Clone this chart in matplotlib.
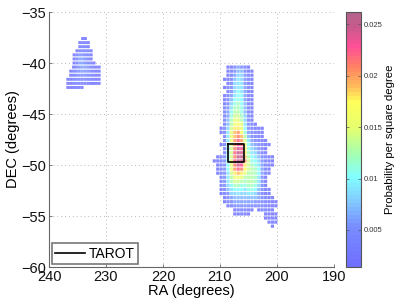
import numpy as np
import matplotlib
matplotlib.use("Agg")
import matplotlib.pyplot as plt
from matplotlib.cm import ScalarMappable
from matplotlib.colors import LinearSegmentedColormap, Normalize

plt.rcParams["font.family"] = ["Liberation Sans", "DejaVu Sans"]

# first RA of each row (degrees) and cell spacing along a row
ra_step_west = 0.5
ra_step_main = 0.6

dec_west = [-37.6, -38.0, -38.4, -38.8, -39.2, -39.6, -40.0, -40.4, -40.8, -41.2, -41.6, -42.0, -42.4]
ra_west = [234.1, 234.6, 234.6, 235.1, 235.6, 235.6, 235.6, 235.7, 236.2, 236.2, 236.7, 236.7, 236.7]
# probabilities in units of 0.001
prob_west = [
    [2, 2],
    [2, 3, 3, 2],
    [2, 3, 3, 2],
    [2, 3, 4, 4, 3, 2],
    [2, 3, 5, 5, 4, 3, 2],
    [2, 4, 6, 6, 5, 3, 2],
    [2, 4, 6, 6, 5, 4, 3, 2],
    [2, 3, 5, 6, 6, 5, 4, 3, 2, 2],
    [2, 3, 4, 5, 6, 5, 5, 4, 3, 2, 2],
    [2, 3, 4, 5, 5, 5, 4, 4, 3, 2, 2],
    [2, 2, 3, 4, 4, 4, 4, 3, 3, 3, 2, 2],
    [2, 2, 3, 3, 3, 3, 3, 3, 2, 2, 2, 2],
    [2, 2, 2, 2, 2, 2],
]

dec_main = [-40.4, -40.8, -41.2, -41.6, -42.0, -42.4, -42.8, -43.2, -43.6, -44.0,
            -44.4, -44.8, -45.2, -45.6, -46.0, -46.4, -46.8, -47.2, -47.6, -48.0,
            -48.4, -48.8, -49.2, -49.6, -50.0, -50.4, -50.8, -51.2, -51.6, -52.0,
            -52.4, -52.8, -53.2, -53.6, -54.0, -54.4, -54.4, -54.8, -54.8, -55.2,
            -55.6, -56.0]
ra_main = [208.6, 208.6, 208.6, 209.2, 208.6, 209.2, 208.6, 209.2, 209.2, 209.2,
           209.2, 209.2, 209.2, 209.2, 209.2, 209.8, 209.8, 209.2, 209.2, 209.8,
           209.2, 209.2, 210.4, 211.0, 210.4, 210.4, 210.4, 209.8, 209.8, 209.8,
           209.8, 209.8, 209.2, 209.2, 208.6, 207.4, 203.2, 207.4, 202.0, 202.0,
           201.4, 200.8]
prob_main = [
    [2, 2, 4, 6, 5, 3, 2],
    [2, 3, 5, 7, 7, 4, 2, 2],
    [2, 3, 6, 8, 8, 5, 3, 2],
    [2, 2, 4, 7, 9, 8, 5, 3, 2],
    [2, 4, 8, 9, 9, 5, 3, 2],
    [2, 3, 5, 8, 9, 9, 6, 3, 2],
    [3, 5, 8, 10, 9, 6, 3, 2],
    [2, 3, 6, 9, 10, 10, 6, 3, 2],
    [2, 4, 7, 10, 11, 10, 6, 3, 2],
    [2, 4, 8, 11, 12, 10, 7, 3, 2],
    [3, 5, 9, 12, 12, 11, 7, 3, 2],
    [3, 6, 10, 13, 13, 11, 7, 3, 2],
    [3, 6, 11, 14, 14, 12, 8, 4, 2],
    [3, 7, 12, 15, 15, 13, 8, 4, 2],
    [3, 7, 13, 16, 17, 15, 9, 5, 3, 2],
    [2, 4, 8, 14, 18, 18, 16, 10, 5, 3, 2, 2, 2],
    [2, 4, 9, 15, 19, 20, 17, 11, 6, 3, 3, 2, 2],
    [4, 9, 15, 19, 21, 19, 13, 7, 4, 3, 2, 2],
    [4, 9, 15, 20, 22, 20, 14, 9, 6, 4, 3, 2, 2],
    [2, 4, 9, 14, 20, 23, 22, 16, 10, 7, 6, 4, 3, 2, 2],
    [4, 9, 14, 21, 24, 23, 17, 11, 8, 7, 5, 3, 2],
    [4, 9, 14, 22, 25, 24, 18, 12, 9, 8, 6, 3, 2],
    [2, 3, 5, 10, 14, 21, 25, 25, 19, 13, 10, 9, 7, 4, 3, 2, 2],
    [2, 2, 3, 5, 10, 15, 22, 25, 25, 20, 14, 11, 10, 8, 5, 3, 2, 2],
    [2, 3, 5, 10, 15, 21, 24, 23, 18, 14, 12, 11, 9, 6, 3, 2, 2],
    [2, 3, 5, 10, 15, 20, 22, 21, 17, 14, 13, 12, 10, 6, 3, 2],
    [2, 3, 5, 9, 14, 18, 19, 18, 15, 13, 13, 12, 10, 6, 3, 2],
    [3, 5, 9, 13, 16, 16, 15, 13, 13, 13, 12, 9, 5, 2],
    [3, 5, 9, 12, 14, 14, 13, 12, 13, 13, 12, 9, 5, 2],
    [3, 5, 8, 10, 12, 12, 11, 11, 12, 12, 11, 8, 4, 2],
    [2, 4, 7, 9, 10, 10, 10, 9, 11, 11, 10, 7, 4, 2, 2],
    [2, 3, 5, 8, 8, 9, 8, 8, 9, 9, 8, 6, 3, 2, 2],
    [2, 4, 6, 7, 7, 7, 7, 7, 7, 7, 6, 4, 3, 2, 2],
    [2, 3, 4, 6, 6, 6, 6, 6, 6, 5, 5, 4, 3, 2, 2, 2],
    [2, 3, 4, 5, 5, 5, 5, 4, 4, 4, 4, 3, 2, 2, 2],
    [2, 3, 3, 3, 3, 2],
    [2, 3, 3, 2, 2],
    [2, 2, 3, 2, 2],
    [2, 2, 2, 2],
    [2, 2, 2, 2],
    [2, 2, 2],
    [2],
]

# TAROT field corners
tarot_ra = [208.65, 205.85, 205.85, 208.65, 208.65]
tarot_dec = [-47.9, -47.9, -49.75, -49.75, -47.9]

x_ticks = [240, 230, 220, 210, 200, 190]
y_ticks = [-35, -40, -45, -50, -55, -60]
cbar_ticks = [0.005, 0.01, 0.015, 0.02, 0.025]
cbar_labels = ["0.005", "0.01", "0.015", "0.02", "0.025"]
vmin, vmax = 0.0014, 0.0262

# washed out jet, as the transparent patches look over white
stops = [(0.0, (112, 112, 255)), (0.15, (120, 140, 255)), (0.25, (130, 200, 255)),
         (0.35, (130, 255, 255)), (0.45, (170, 255, 170)), (0.55, (230, 255, 110)),
         (0.65, (255, 255, 90)), (0.71, (255, 190, 90)), (0.79, (255, 130, 100)),
         (0.87, (255, 80, 150)), (0.95, (200, 90, 140)), (1.0, (180, 100, 140))]
cmap = LinearSegmentedColormap.from_list(
    "washed_jet", [(p, tuple(c / 255 for c in rgb)) for p, rgb in stops], N=64)
norm = Normalize(vmin, vmax)


def row_cells(decs, ras, probs, step):
    x, y, c = [], [], []
    for dec, ra, row in zip(decs, ras, probs):
        for i, p in enumerate(row):
            x.append(ra - i * step)
            y.append(dec)
            c.append(p * 0.001)
    return x, y, c


fig = plt.figure(figsize=(3.99, 3.02), dpi=100)
ax = fig.add_axes([49 / 399, 35 / 302, 285 / 399, 255 / 302])

for decs, ras, probs, step, size in [(dec_west, ra_west, prob_west, ra_step_west, 4.5),
                                     (dec_main, ra_main, prob_main, ra_step_main, 5.2)]:
    x, y, c = row_cells(decs, ras, probs, step)
    pts = ax.scatter(x, y, c=c, s=size, marker="s", cmap=cmap, norm=norm, linewidths=0, zorder=2,
                     alpha=0.85)
    pts.set_snap(False)

line, = ax.plot(tarot_ra, tarot_dec, color="k", lw=1.2, zorder=3, label="TAROT")

ax.set_xlim(240, 190)
ax.set_ylim(-60, -35)
ax.set_xticks(x_ticks)
ax.set_yticks(y_ticks)
ax.grid(True, color="#b8b8b8", ls=(0, (1, 3)), lw=0.7, zorder=0)
ax.set_axisbelow(True)
ax.spines["top"].set_visible(False)
ax.spines["right"].set_visible(False)
ax.spines["left"].set_color("#666666")
ax.spines["bottom"].set_color("#666666")
ax.tick_params(direction="in", length=2.5, width=0.6, color="#666666", labelsize=10.5, pad=2,
               labelcolor="#111111")
ax.set_xlabel("RA (degrees)", fontsize=10.5, labelpad=0)
ax.set_ylabel("DEC (degrees)", fontsize=10.5, labelpad=1)

leg = ax.legend(handles=[line], loc="lower left", bbox_to_anchor=(3 / 285, 3 / 255), borderaxespad=0,
                fontsize=10, fancybox=False, framealpha=1, edgecolor="#777777",
                handlelength=2.1, handletextpad=0.3, borderpad=0.25)
leg.get_frame().set_linewidth(1.2)

cax = fig.add_axes([346 / 399, 35 / 302, 15 / 399, 255 / 302])
cb = fig.colorbar(ScalarMappable(norm=norm, cmap=cmap), cax=cax)
cb.set_ticks(cbar_ticks, labels=cbar_labels)
cb.outline.set_edgecolor("#555555")
cb.outline.set_linewidth(0.8)
cax.tick_params(axis="y", direction="in", length=2, width=0.5, color="#555555", labelsize=5.5,
                pad=2, left=True, right=True, labelcolor="#333333")
cb.set_label("Probability per square degree", fontsize=8.2, labelpad=2)

fig.savefig("out.png", dpi=100)
